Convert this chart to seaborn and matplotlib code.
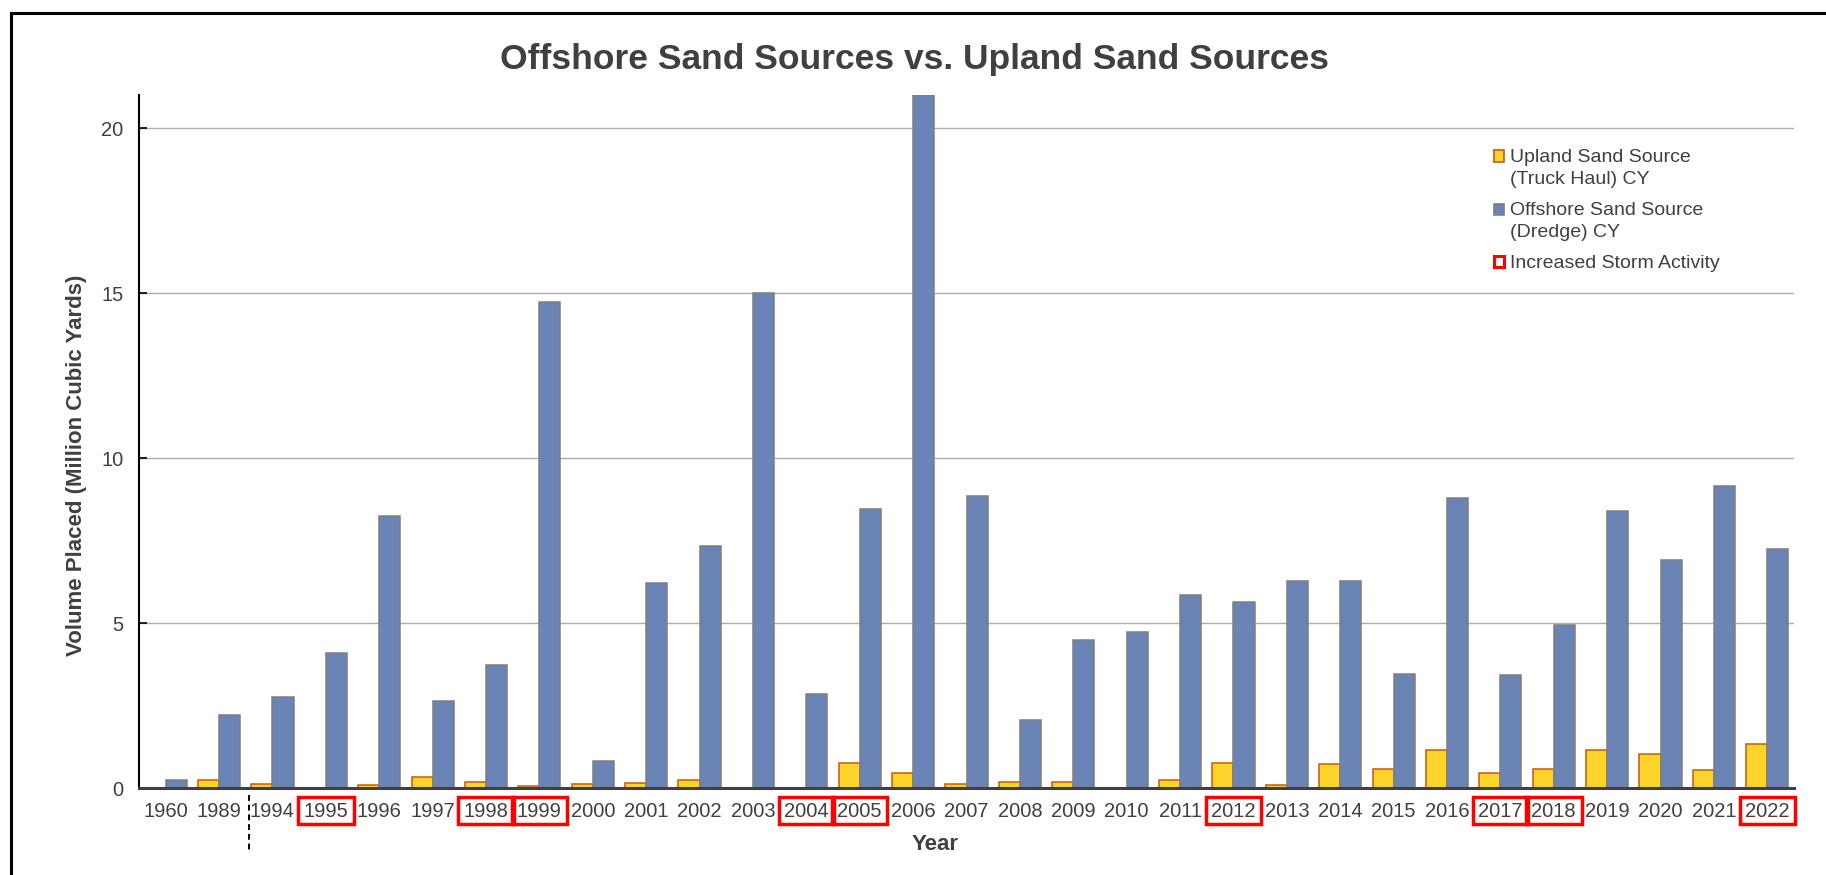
import matplotlib
matplotlib.use("Agg")
import matplotlib.pyplot as plt
import pandas as pd
import seaborn as sns
from matplotlib.patches import Patch, Rectangle
from matplotlib.legend_handler import HandlerPatch

years = ["1960", "1989", "1994", "1995", "1996", "1997", "1998", "1999", "2000", "2001",
         "2002", "2003", "2004", "2005", "2006", "2007", "2008", "2009", "2010", "2011",
         "2012", "2013", "2014", "2015", "2016", "2017", "2018", "2019", "2020", "2021", "2022"]
upland = [0.0, 0.23, 0.11, 0.0, 0.09, 0.32, 0.19, 0.06, 0.11, 0.16,
          0.24, 0.0, 0.0, 0.77, 0.47, 0.12, 0.18, 0.18, 0.0, 0.23,
          0.76, 0.09, 0.73, 0.58, 1.14, 0.45, 0.59, 1.14, 1.02, 0.55, 1.33]
offshore = [0.24, 2.21, 2.75, 4.09, 8.25, 2.65, 3.74, 14.74, 0.81, 6.2,
            7.34, 15.0, 2.86, 8.47, 21.0, 8.85, 2.05, 4.48, 4.73, 5.86,
            5.64, 6.28, 6.28, 3.46, 8.78, 3.42, 4.94, 8.4, 6.91, 9.14, 7.23]
storm_years = ["1995", "1998", "1999", "2004", "2005", "2012", "2017", "2018", "2022"]

up_label = "Upland Sand Source\n(Truck Haul) CY"
off_label = "Offshore Sand Source\n(Dredge) CY"
storm_label = "Increased Storm Activity"

YELLOW = "#FFD42A"
ORANGE = "#C55A11"
BLUE = "#6A84B5"
GREY = "#7F7F7F"
TEXT = "#404040"

df = pd.DataFrame({
    "Year": years * 2,
    "Volume": upland + offshore,
    "Source": [up_label] * len(years) + [off_label] * len(years),
})

sns.set_theme(style="white")
plt.rcParams["font.family"] = ["Liberation Sans", "DejaVu Sans"]

fig = plt.figure(figsize=(18.26, 8.75), dpi=100)
ax = fig.add_axes([0.0761, 0.0994, 0.9064, 0.792])

sns.barplot(data=df, x="Year", y="Volume", hue="Source", order=years,
            hue_order=[up_label, off_label], palette=[YELLOW, BLUE], saturation=1,
            width=0.79, errorbar=None, legend=False, linewidth=1.1, ax=ax)

# edge colours differ per series
for bar in ax.patches:
    r, g, b, _ = bar.get_facecolor()
    bar.set_edgecolor(ORANGE if r > 0.9 else GREY)

ax.set_xlim(-0.5, len(years) - 0.5)
ax.set_ylim(0, 21)
ax.set_yticks([0, 5, 10, 15, 20])
ax.yaxis.grid(True, color="#ADADAD", lw=1.0)
ax.set_axisbelow(True)

for s in ["top", "right"]:
    ax.spines[s].set_visible(False)
ax.spines["left"].set_color("black")
ax.spines["left"].set_linewidth(1.5)
ax.spines["bottom"].set_color(TEXT)
ax.spines["bottom"].set_linewidth(2.2)

ax.tick_params(axis="y", left=True, direction="in", length=6, width=1.2, color="black",
               pad=11, labelsize=14.5, labelcolor=TEXT)
ax.tick_params(axis="x", bottom=False, length=0, pad=10, labelsize=14.5, labelcolor=TEXT)

ax.set_xlabel("Year", fontsize=16, fontweight="bold", color=TEXT)
ax.set_ylabel("Volume Placed (Million Cubic Yards)", fontsize=16, fontweight="bold", color=TEXT)
ax.xaxis.set_label_coords(0.481, -0.066)
ax.yaxis.set_label_coords(-0.0314, 0.465)

# storm activity boxes around year labels
xform = ax.get_xaxis_transform()
for i, y in enumerate(years):
    if y in storm_years:
        ax.add_patch(Rectangle((i - 0.52, -0.0525), 1.04, 0.039, transform=xform,
                               fill=False, ec="red", lw=2.5, clip_on=False))

# dashed break between 1989 and 1994
ax.plot([1.56, 1.56], [-0.0101, -0.094], transform=xform, clip_on=False,
        color="black", lw=1.4, ls=(0, (3, 2)))

fig.suptitle("Offshore Sand Sources vs. Upland Sand Sources", x=0.501, y=1 - 59 / 875,
             va="center", fontsize=25.5, fontweight="bold", color=TEXT)


def top_square(legend, orig_handle, xdescent, ydescent, width, height, fontsize):
    # align the marker with the first line of a two-line label
    return Rectangle((-xdescent, -ydescent + 0.62 * fontsize), width, height)


h_up = Patch(fc=YELLOW, ec=ORANGE, lw=1.2)
h_off = Patch(fc=BLUE, ec=GREY, lw=1.2)
h_storm = Patch(fc="white", ec="red", lw=2.2)
leg = ax.legend([h_up, h_off, h_storm], [up_label, off_label, storm_label],
                handler_map={h_up: HandlerPatch(patch_func=top_square),
                             h_off: HandlerPatch(patch_func=top_square)},
                loc="upper left", bbox_to_anchor=(1493.5 / 1826, 1 - 149 / 875),
                bbox_transform=fig.transFigure, frameon=False, borderpad=0,
                borderaxespad=0, handlelength=0.55, handleheight=0.55,
                handletextpad=0.3, labelspacing=0.72, fontsize=14, labelcolor=TEXT)
for t in leg.get_texts():
    t.set_linespacing(1.4)

fig.add_artist(Rectangle((11 / 1826, -0.05), 1.0, 1 - 13 / 875 + 0.05,
                         transform=fig.transFigure, fill=False, ec="black", lw=2.2))

fig.savefig("out.png", dpi=100)
